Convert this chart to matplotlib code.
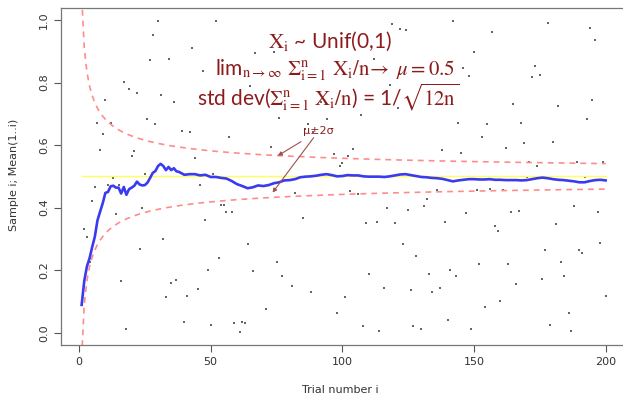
import numpy as np
import matplotlib
matplotlib.use("Agg")
import matplotlib.pyplot as plt

# ---- data ----
sample_i = [1,2,3,4,5,6,7,8,9,10,11,12,13,14,15,16,17,18,19,20,
            21,22,23,24,25,26,27,28,29,30,31,32,33,34,35,36,37,39,40,
            41,42,43,44,45,46,47,48,49,50,51,52,53,54,55,56,57,58,59,
            61,62,63,64,65,66,67,71,73,74,75,76,77,81,82,85,86,87,88,89,
            92,94,97,98,99,100,101,102,103,104,106,107,108,109,110,112,113,114,
            116,117,118,119,120,121,122,123,124,125,126,127,128,130,131,132,133,
            134,136,137,138,139,140,141,142,143,144,145,146,147,148,149,150,
            151,152,153,154,155,156,157,158,159,160,161,162,163,164,165,166,167,
            168,169,170,171,172,173,174,175,176,177,178,179,180,181,182,183,184,
            186,187,188,189,190,191,192,193,194,195,196,197,198,199,200]
sample_y = [0.089,0.331,0.305,0.226,0.421,0.467,0.672,0.584,0.635,0.743,
            0.473,0.670,0.494,0.379,0.472,0.166,0.801,0.011,0.779,0.565,
            0.582,0.767,0.269,0.399,0.508,0.684,0.872,0.952,0.667,0.998,
            0.760,0.299,0.113,0.875,0.159,0.739,0.169,0.646,0.033,
            0.118,0.641,0.909,0.560,0.139,0.473,0.838,0.360,0.201,0.026,
            0.507,0.997,0.240,0.407,0.409,0.385,0.626,0.386,0.032,
            0.003,0.035,0.032,0.284,0.790,0.197,0.895,0.075,0.593,0.898,
            0.225,0.688,0.181,0.149,0.447,0.366,0.651,0.666,0.131,0.643,
            0.738,0.683,0.571,0.063,0.533,0.543,0.115,0.566,0.454,0.587,
            0.443,0.696,0.020,0.350,0.189,0.875,0.355,0.005,
            0.142,0.398,0.791,0.987,0.351,0.718,0.970,0.283,0.968,0.392,
            0.137,0.020,0.245,0.013,0.404,0.429,0.189,
            0.130,0.456,0.143,0.584,0.355,0.042,0.201,0.998,0.180,0.672,
            0.575,0.846,0.383,0.822,0.013,0.897,
            0.455,0.221,0.625,0.083,0.668,0.459,0.961,0.341,0.326,0.102,
            0.457,0.592,0.219,0.386,0.730,0.156,0.390,
            0.670,0.608,0.498,0.547,0.817,0.853,0.532,0.825,0.171,0.264,
            0.991,0.026,0.611,0.347,0.725,0.225,0.182,
            0.063,0.006,0.404,0.547,0.264,0.256,0.498,0.684,0.973,0.743,
            0.937,0.385,0.286,0.547,0.117]

mean_n = list(range(1, 38)) + list(range(38, 201, 2))
mean_y = [0.089,0.166,0.212,0.238,0.274,0.307,0.359,0.387,0.414,0.447,
          0.450,0.468,0.470,0.464,0.464,0.445,0.466,0.441,0.459,0.464,
          0.470,0.483,0.474,0.471,0.472,0.480,0.495,0.511,0.517,0.533,
          0.540,0.533,0.520,0.530,0.520,0.526,0.516,
          0.514,0.505,0.507,0.507,0.503,0.505,0.498,0.498,0.495,0.493,
          0.485,0.475,0.469,0.462,0.465,0.471,0.469,0.472,0.478,0.481,
          0.487,0.488,0.491,0.497,0.499,0.500,0.502,0.505,0.507,0.504,
          0.500,0.501,0.504,0.503,0.503,0.500,0.499,0.499,0.499,0.498,
          0.500,0.503,0.506,0.507,0.504,0.501,0.498,0.497,0.495,0.494,
          0.492,0.488,0.484,0.487,0.489,0.491,0.491,0.490,0.490,0.491,
          0.489,0.489,0.488,0.488,0.488,0.487,0.488,0.491,0.494,0.496,
          0.494,0.491,0.489,0.488,0.486,0.484,0.481,0.481,0.485,0.488,
          0.489,0.487]

mu = 0.5
sigma = np.sqrt(1.0 / 12.0)
x_ticks = [0, 50, 100, 150, 200]
y_ticks = [0.0, 0.2, 0.4, 0.6, 0.8, 1.0]

# ---- figure ----
W, H, DPI = 623, 397, 100
fig = plt.figure(figsize=(W / DPI, H / DPI), dpi=DPI)
ax = fig.add_axes([60.7 / W, 1 - 345.2 / H, (626.6 - 60.7) / W, (345.2 - 7.5) / H])
ax.set_xlim(-6.96, 207.96)
ax.set_ylim(-0.04, 1.04)

n = np.arange(1, 201)
ax.plot(n, mu + 2 * sigma / np.sqrt(n), ls=(0, (3.5, 3)), color="#ff8c8c", lw=1.2)
ax.plot(n, mu - 2 * sigma / np.sqrt(n), ls=(0, (3.5, 3)), color="#ff8c8c", lw=1.2)
ax.plot([1, 200], [mu, mu], color="#ffff55", lw=1.0)
ax.scatter(sample_i, sample_y, s=1.6, marker="s", color="#666666", linewidths=0)
ax.plot(mean_n, mean_y, color="#3a3af0", lw=1.9, solid_joinstyle="round")

ax.set_xticks(x_ticks)
ax.set_yticks(y_ticks)
ax.set_xticklabels([str(t) for t in x_ticks], fontsize=8, color="#333333")
ax.set_yticklabels(["%.1f" % t for t in y_ticks], fontsize=8, color="#333333",
                   rotation=90, va="center")
ax.tick_params(direction="out", length=5, width=0.8, colors="#555555", labelcolor="#333333")
for s in ax.spines.values():
    s.set_color("#777777")
    s.set_linewidth(0.9)

fig.text(14 / W, 1 - 175 / H, "Sample i; Mean(1..i)", rotation=90, ha="center",
         va="center", fontsize=8, color="#333333")
fig.text(340 / W, 1 - 385 / H, "Trial number i", ha="center", va="top",
         fontsize=8, color="#333333")

# ---- annotations ----
plt.rcParams["mathtext.fontset"] = "stix"
red = "#8c1c1c"
fs = 15
fig.text(330 / W, 1 - 48 / H, r"$\mathrm{X_i}$ ~ Unif(0,1)", ha="center",
         va="baseline", fontsize=fs, color=red, family="Lato")
fig.text(335 / W, 1 - 76 / H,
         r"lim$_{\mathrm{n}\rightarrow\infty}$ $\Sigma_{\mathrm{i=1}}^{\mathrm{n}}\ \mathrm{X_i/n}\!\rightarrow\ \mu\mathrm{=0.5}$",
         ha="center", va="baseline", fontsize=fs, color=red, family="Lato")
fig.text(328 / W, 1 - 106 / H,
         r"std dev($\Sigma_{\mathrm{i=1}}^{\mathrm{n}}\ \mathrm{X_i/n}$) = 1/$\sqrt{\mathrm{12n}}$",
         ha="center", va="baseline", fontsize=fs, color=red, family="Lato")

ax.annotate(r"μ±2σ", xy=(75.5, 0.566), xytext=(91, 0.645), fontsize=8,
            color=red, ha="center", va="center",
            arrowprops=dict(arrowstyle="-|>", color="#a0504a", lw=0.8,
                            shrinkA=4, shrinkB=0, mutation_scale=6))
ax.annotate("", xy=(73.5, 0.448), xytext=(91, 0.645),
            arrowprops=dict(arrowstyle="-|>", color="#a0504a", lw=0.8,
                            shrinkA=6, shrinkB=0, mutation_scale=6))

fig.savefig("out.png", dpi=DPI)
